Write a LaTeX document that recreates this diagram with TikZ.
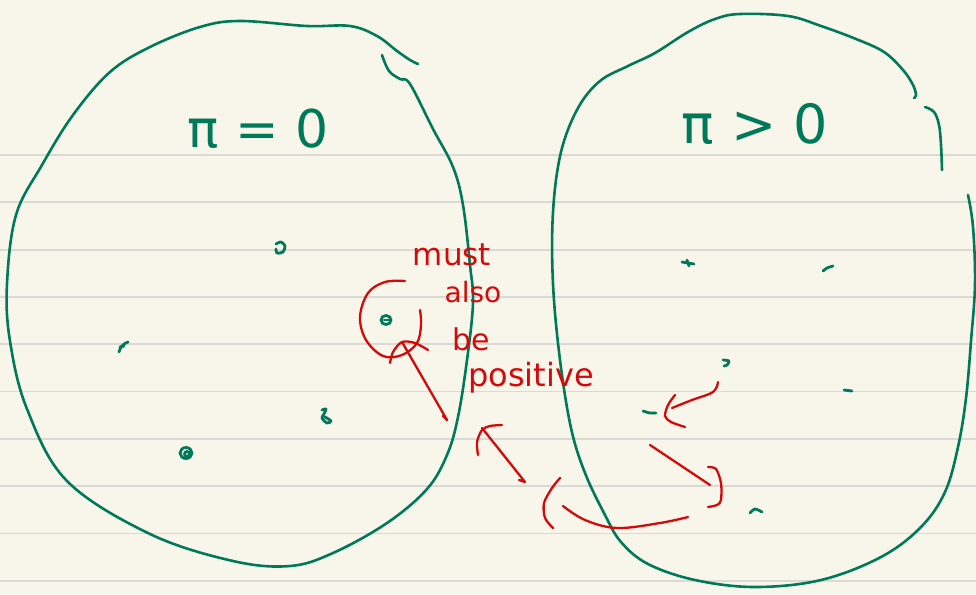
\documentclass[tikz,border=0pt]{standalone}
\usepackage{fontspec}
\setmainfont{DejaVu Sans}
\definecolor{bg}{HTML}{F8F6EB}
\definecolor{rulegray}{HTML}{D9D9D5}
\definecolor{ink}{HTML}{00785A}
\definecolor{redink}{HTML}{D40A0A}
\tikzset{
  gpen/.style={draw=ink, line width=2.6pt, line cap=round, line join=round},
  gdot/.style={draw=ink, line width=2.8pt, line cap=round, line join=round},
  rpen/.style={draw=redink, line width=2.3pt, line cap=round, line join=round},
  gtext/.style={text=ink, anchor=base, inner sep=0pt},
  rtext/.style={text=redink, anchor=base, inner sep=0pt},
}
\begin{document}
\begin{tikzpicture}[x=1pt,y=-1pt]
\fill[bg] (0,0) rectangle (976,594);
\useasboundingbox (0,0) rectangle (976,594);
% ruled lines
\foreach \k in {0,...,9}{
  \draw[rulegray, line width=1.8pt] (0,155+47.3*\k) -- (976,155+47.3*\k);
}
% left blob
\draw[gpen] plot[smooth, tension=0.6] coordinates {(382,55) (389,71) (400,79) (410,84) (433,129) (453,167) (463,205) (470,265) (473,303) (467,360) (458,417) (447,455) (427,489) (387,523) (333,553) (290,566) (233,561) (150,534) (67,481) (27,409) (10,341) (7,284) (16,215) (42,165) (73,115) (110,72) (150,47) (200,27) (240,21) (307,26) (350,26) (377,36) (397,51) (410,60) (418,64)};
% right blob
\draw[gpen] plot[smooth, tension=0.6] coordinates {(968,195) (973,227) (975,284) (971,341) (966,398) (958,447) (945,492) (921,527) (881,557) (821,580) (755,587) (695,580) (648,564) (621,542) (605,515) (585,473) (571,428) (560,360) (553,284) (553,212) (561,152) (578,108) (600,81) (628,66) (655,53) (688,32) (715,19) (740,14) (788,16) (821,26) (856,39) (884,52) (903,70) (913,85) (916,95) (914,98)};
\draw[gpen] plot[smooth, tension=0.6] coordinates {(925,107) (934,112) (939,125) (941,145) (942,170)};
% titles
\node[gtext, font=\fontsize{52}{52}\selectfont] (tleft) at (258,147) {π = 0};
\node[gtext, font=\fontsize{54}{54}\selectfont] (tright) at (755,143) {π > 0};
% green points, left
\draw[gdot] plot[smooth] coordinates {(276,244) (281,242) (285,246) (283,252) (277,253) (276,249)};
\draw[gdot] plot[smooth] coordinates {(119,352) (121,347) (124,344) (128,342)};
\draw[gdot] (120,347) -- (124,346);
\draw[gdot] (386,320) ellipse [x radius=5, y radius=4.5];
\draw[gdot] (384,320) -- (389,320);
\draw[gdot] plot[smooth] coordinates {(322,410) (326,409) (324,414) (322,418) (327,423) (331,421) (325,417)};
\draw[gdot] (186,453) ellipse [x radius=6, y radius=5.5];
\draw[gdot] (187,454) ellipse [x radius=2.5, y radius=2.5];
% green points, right
\draw[gdot] plot[smooth] coordinates {(682,262) (688,263) (694,264)};
\draw[gdot] (687,260) -- (689,266);
\draw[gdot] plot[smooth] coordinates {(823,271) (827,268) (833,266)};
\draw[gdot] plot[smooth] coordinates {(723,360) (729,361) (727,365) (724,366)};
\draw[gdot] (844,390) -- (852,391);
\draw[gdot] plot[smooth] coordinates {(643,411) (650,413) (656,413)};
\draw[gdot] plot[smooth] coordinates {(750,513) (755,509) (762,512)};
% red circle around the point
\draw[rpen] plot[smooth, tension=0.6] coordinates {(405,281) (385,282) (368,293) (360,317) (366,340) (383,356) (402,355) (417,343) (421,325) (420,310)};
% red arrow from the circle
\coordinate (atip) at (402,342);
\coordinate (atail) at (447,420);
\draw[rpen] (atip) -- (atail);
\draw[rpen] (atail) -- (443,416);
\draw[rpen] plot[smooth] coordinates {(390,363) (393,352) (402,342) (415,343) (428,350)};
% red words
\node[rtext, font=\fontsize{31}{31}\selectfont] (wmust) at (452,265) {must};
\node[rtext, font=\fontsize{28}{28}\selectfont] (walso) at (473,302) {also};
\node[rtext, font=\fontsize{30}{30}\selectfont] (wbe) at (471,350) {be};
\node[rtext, font=\fontsize{32}{32}\selectfont] (wpos) at (531,386) {positive};
% red arrow 1 (diagonal)
\coordinate (a1s) at (482,428);
\coordinate (a1e) at (525,482);
\draw[rpen] (a1s) -- (a1e) -- (519,480);
\draw[rpen] plot[smooth] coordinates {(502,425) (490,426) (482,430) (477,442) (478,455)};
% red arrow 2 (bottom curve)
\coordinate (a2s) at (688,517);
\coordinate (a2e) at (563,506);
\draw[rpen] plot[smooth, tension=0.6] coordinates {(a2s) (660,523) (617,528) (585,520) (a2e)};
\draw[rpen] plot[smooth] coordinates {(560,478) (552,488) (544,503) (545,518) (553,528)};
% red arrow 3 (right diagonal)
\coordinate (a3s) at (650,445);
\coordinate (a3e) at (710,485);
\draw[rpen] (a3s) -- (a3e);
\draw[rpen] plot[smooth] coordinates {(708,467) (716,469) (721,483) (721,500) (717,505) (708,507)};
% red arrow 4 (top, towards point)
\coordinate (a4s) at (718,382);
\coordinate (a4e) at (672,408);
\draw[rpen] plot[smooth, tension=0.6] coordinates {(a4s) (713,392) (692,400) (a4e)};
\draw[rpen] plot[smooth] coordinates {(675,395) (668,405) (665,416) (671,422) (685,427)};
\end{tikzpicture}
\end{document}
